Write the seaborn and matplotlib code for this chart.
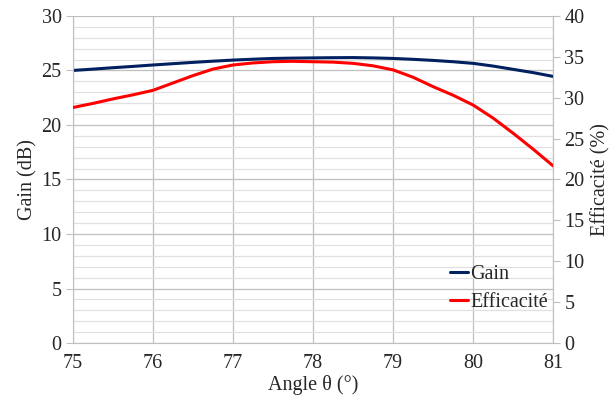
import matplotlib
matplotlib.use("Agg")
import matplotlib.pyplot as plt
import seaborn as sns
import numpy as np
import pandas as pd
from matplotlib.ticker import MultipleLocator

# values
angle = [75, 75.25, 75.5, 75.75, 76, 76.25, 76.5, 76.75, 77, 77.25, 77.5, 77.75,
         78, 78.25, 78.5, 78.75, 79, 79.25, 79.5, 79.75, 80, 80.25, 80.5, 80.75, 81]
gain_db = [25.0, 25.12, 25.25, 25.37, 25.5, 25.62, 25.74, 25.85, 25.95, 26.03, 26.1, 26.13,
           26.15, 26.17, 26.18, 26.15, 26.1, 26.02, 25.92, 25.8, 25.65, 25.4, 25.1, 24.8, 24.45]
efficacite = [28.8, 29.3, 29.85, 30.35, 30.9, 31.8, 32.7, 33.5, 34.0, 34.25, 34.4, 34.45,
              34.4, 34.35, 34.2, 33.9, 33.4, 32.5, 31.35, 30.3, 29.1, 27.5, 25.65, 23.7, 21.65]

df = pd.DataFrame({"angle": angle, "gain": gain_db, "eff": efficacite})

sns.set_style("white")
plt.rcParams['font.family'] = ['Liberation Serif', 'DejaVu Serif']

fs = 14.5
fig = plt.figure(figsize=(6.12, 3.98), dpi=100)
ax = fig.add_axes([0.119, 0.138, 0.785, 0.822])
ax2 = ax.twinx()

sns.lineplot(data=df, x="angle", y="gain", ax=ax, color="#002060", lw=2.2, label="Gain", legend=False)
sns.lineplot(data=df, x="angle", y="eff", ax=ax2, color="#ff0000", lw=2.2, label="Efficacité", legend=False)

ax.set_xlim(75, 81)
ax.set_ylim(0, 30)
ax2.set_ylim(0, 40)
ax.xaxis.set_major_locator(MultipleLocator(1))
ax.yaxis.set_major_locator(MultipleLocator(5))
ax.yaxis.set_minor_locator(MultipleLocator(1))
ax2.yaxis.set_major_locator(MultipleLocator(5))

ax.grid(True, which="major", axis="both", color="#bfbfbf", lw=0.9)
ax.grid(True, which="minor", axis="y", color="#e0e0e0", lw=0.9)
ax.set_axisbelow(True)

for a in (ax, ax2):
    for s in a.spines.values():
        s.set_visible(False)
ax.spines["bottom"].set_visible(True)
ax.spines["bottom"].set_color("#bfbfbf")
ax.spines["left"].set_visible(True)
ax.spines["left"].set_color("#bfbfbf")
ax2.spines["right"].set_visible(True)
ax2.spines["right"].set_color("#bfbfbf")

ax.tick_params(axis="both", which="major", length=5, color="#bfbfbf", labelsize=fs, pad=3)
ax.tick_params(axis="y", which="minor", length=0)
ax2.tick_params(axis="y", length=5, color="#bfbfbf", labelsize=fs, pad=3)

ax.set_xlabel("Angle θ (°)", fontsize=fs, labelpad=1)
ax.set_ylabel("Gain (dB)", fontsize=fs, labelpad=3)
ax2.set_ylabel("Efficacité (%)", fontsize=fs, labelpad=5)

h1, l1 = ax.get_legend_handles_labels()
h2, l2 = ax2.get_legend_handles_labels()
ax2.legend(h1 + h2, l1 + l2, loc="lower right", bbox_to_anchor=(1.01, 0.065),
           frameon=False, fontsize=fs, handlelength=0.9, handletextpad=0.1,
           labelspacing=0.45, borderaxespad=0.1)

fig.savefig("out.png", dpi=100)
